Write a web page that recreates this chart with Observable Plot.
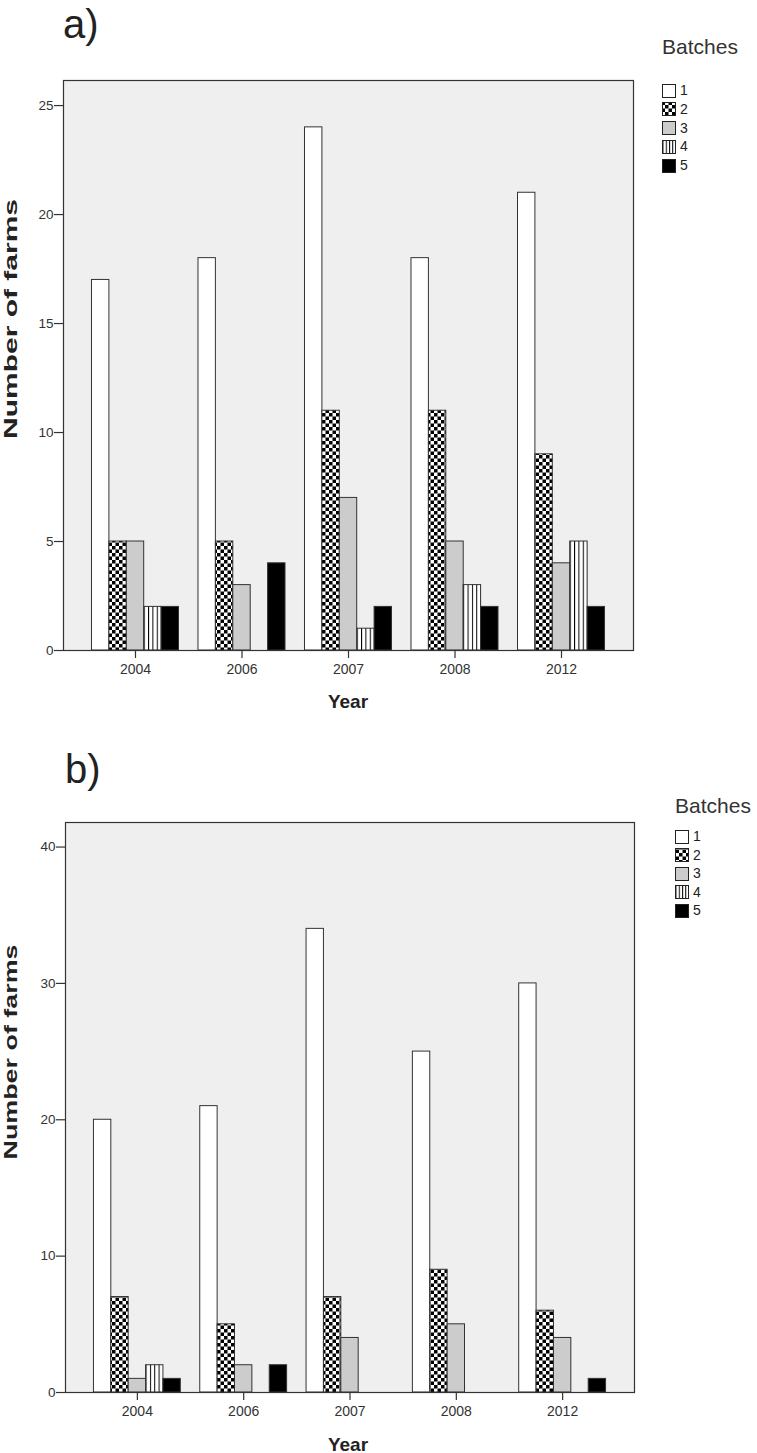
<!DOCTYPE html>
<html><head><meta charset="utf-8">
<script src="https://cdn.jsdelivr.net/npm/d3@7"></script>
<script src="https://cdn.jsdelivr.net/npm/@observablehq/plot@0.6"></script>
<style>
body{margin:0;background:#fff;font-family:"Liberation Sans",Arial,sans-serif;}
#wrap svg{display:block;}
</style></head><body><div id="wrap"></div>
<script>
const years = ["2004", "2006", "2007", "2008", "2012"];
const batches = ["1", "2", "3", "4", "5"];
// panel a)
const aBatch1 = [17, 18, 24, 18, 21];
const aBatch2 = [5, 5, 11, 11, 9];
const aBatch3 = [5, 3, 7, 5, 4];
const aBatch4 = [2, 0, 1, 3, 5];
const aBatch5 = [2, 4, 2, 2, 2];
const aTicks = [0, 5, 10, 15, 20, 25];
// panel b)
const bBatch1 = [20, 21, 34, 25, 30];
const bBatch2 = [7, 5, 7, 9, 6];
const bBatch3 = [1, 2, 4, 5, 4];
const bBatch4 = [2, 0, 0, 0, 0];
const bBatch5 = [1, 2, 0, 0, 1];
const bTicks = [0, 10, 20, 30, 40];

const FONT = "Liberation Sans, Arial, Helvetica, sans-serif";
const GROUP = 0.817;              // cluster width, in year steps
const BAR = GROUP / batches.length;

function table(series) {
  const rows = [];
  years.forEach((y, i) => batches.forEach((b, j) => {
    const v = series[j][i];
    if (v > 0) {
      const x1 = i - GROUP / 2 + j * BAR;
      rows.push({year: y, batch: b, farms: v, x1, x2: x1 + BAR});
    }
  }));
  return rows;
}
function fillFor(id, b) {
  return {"1": "#ffffff", "2": `url(#${id}-check)`, "3": "#cccccc", "4": `url(#${id}-stripe)`, "5": "#000000"}[b];
}

function chart(p) {
  const data = table(p.series);
  const svg = Plot.plot({
    width: 757, height: p.height,
    marginTop: p.mt, marginBottom: p.mb, marginLeft: p.ml, marginRight: p.mr,
    style: {fontFamily: FONT, background: "white", color: "#333", overflow: "visible"},
    x: {type: "linear", domain: [-0.676, years.length - 1 + 0.676]},
    y: {domain: [0, p.ymax]},
    color: {type: "identity"},
    marks: [
      Plot.frame({fill: "#efefef", stroke: null}),
      Plot.rectY(data, {x1: "x1", x2: "x2", y1: d => 0, y2: "farms", fill: d => fillFor(p.id, d.batch), stroke: "#333", strokeWidth: 1}),
      Plot.frame({stroke: "#333", strokeWidth: 1.2}),
      Plot.axisY({ticks: p.ticks, tickSize: 9, tickPadding: 1, fontSize: 13.5, label: null, tickFormat: d => String(d), stroke: "#333", strokeWidth: 1.2}),
      Plot.axisX({anchor: "bottom", ticks: d3.range(years.length), tickFormat: i => years[i], tickSize: 8, tickPadding: 6, fontSize: 14, label: null, stroke: "#333", strokeWidth: 1.2})
    ]
  });
  const s = d3.select(svg);
  const defs = s.insert("defs", ":first-child");
  const chk = defs.append("pattern").attr("id", p.id + "-check").attr("patternUnits", "userSpaceOnUse").attr("width", 7).attr("height", 7);
  chk.append("rect").attr("width", 7).attr("height", 7).attr("fill", "#fff");
  chk.append("rect").attr("width", 3.5).attr("height", 3.5).attr("fill", "#000");
  chk.append("rect").attr("x", 3.5).attr("y", 3.5).attr("width", 3.5).attr("height", 3.5).attr("fill", "#000");
  const str = defs.append("pattern").attr("id", p.id + "-stripe").attr("patternUnits", "objectBoundingBox").attr("width", 0.25).attr("height", 1);
  str.append("rect").attr("width", 100).attr("height", 3000).attr("fill", "#fff");
  str.append("rect").attr("width", 1).attr("height", 3000).attr("fill", "#000");

  const g = s.append("g").attr("font-family", FONT).attr("text-anchor", "start");
  // panel label
  g.append("text").attr("x", p.panelX).attr("y", p.panelY).attr("font-size", 40).attr("fill", "#222").text(p.panel);
  // axis titles
  g.append("text").attr("x", 348).attr("y", p.yearY).attr("font-size", 19).attr("font-weight", "bold").attr("fill", "#222").attr("text-anchor", "middle").text("Year");
  g.append("text").attr("transform", `translate(${p.ylabX},${p.ylabY}) rotate(-90)`).attr("font-size", 19).attr("font-weight", "bold").attr("fill", "#222").attr("text-anchor", "middle")
    .attr("textLength", p.ylabLen).attr("lengthAdjust", "spacingAndGlyphs").text("Number of farms");
  // legend
  g.append("text").attr("x", p.lx).attr("y", p.ly).attr("font-size", 21).attr("fill", "#333").text("Batches");
  batches.forEach((b, i) => {
    const cy = p.ly0 + i * p.lstep;
    g.append("rect").attr("x", p.lx + 0.5).attr("y", Math.round(cy - 6.5) + 0.5).attr("width", 13).attr("height", 13).attr("fill", fillFor(p.id, b)).attr("stroke", "#222");
    g.append("text").attr("x", p.lx + 18).attr("y", cy + 5).attr("font-size", 14).attr("fill", "#222").text(b);
  });
  document.getElementById("wrap").appendChild(svg);
}

chart({id: "pa", series: [aBatch1, aBatch2, aBatch3, aBatch4, aBatch5], ticks: aTicks, ymax: 26.15,
  height: 727, mt: 80, mb: 77, ml: 63, mr: 124,
  panel: "a)", panelX: 63, panelY: 38, yearY: 708, ylabX: 17, ylabY: 319, ylabLen: 240,
  lx: 662, ly: 54, ly0: 90, lstep: 18.75});
chart({id: "pb", series: [bBatch1, bBatch2, bBatch3, bBatch4, bBatch5], ticks: bTicks, ymax: 41.8,
  height: 726, mt: 95, mb: 61, ml: 65, mr: 123,
  panel: "b)", panelX: 65, panelY: 56, yearY: 724, ylabX: 17, ylabY: 325, ylabLen: 215,
  lx: 675, ly: 86, ly0: 109, lstep: 18.5});
</script></body></html>
